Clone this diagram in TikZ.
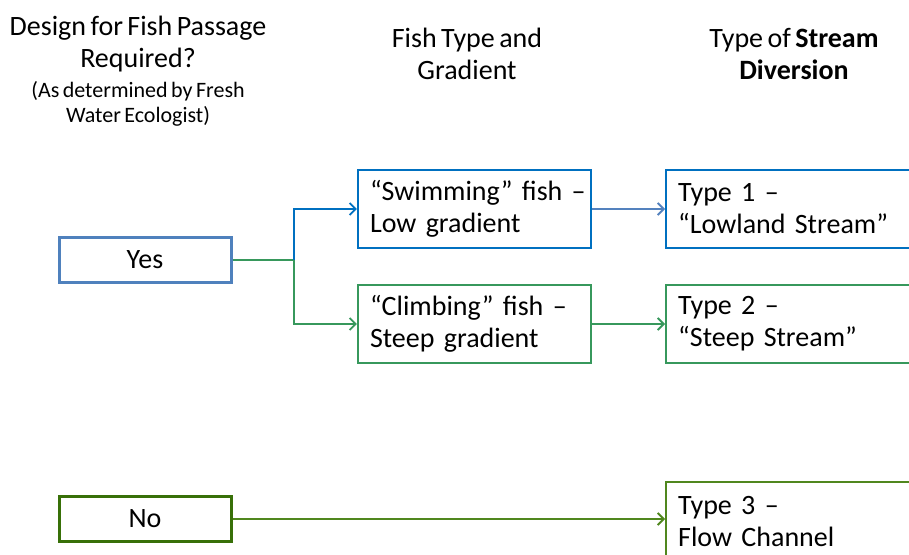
\documentclass[tikz,border=0pt]{standalone}
\usepackage{fontspec}
\setmainfont[WordSpace=0.7]{Carlito}
\usetikzlibrary{arrows.meta}
\definecolor{yesblue}{RGB}{79,129,189}
\definecolor{boxblue}{RGB}{0,112,192}
\definecolor{lineblue}{RGB}{84,130,190}
\definecolor{boxgreen}{RGB}{55,152,92}
\definecolor{nogreen}{RGB}{56,112,8}
\definecolor{t3green}{RGB}{80,135,30}
\tikzset{
  hdr/.style={font=\fontsize{28}{32}\selectfont, align=center},
  sub/.style={font=\fontsize{22}{25}\selectfont, align=center},
  choice/.style={draw, line width=3pt, minimum width=172pt, minimum height=45pt, inner sep=0pt, font=\fontsize{28}{32}\selectfont},
  tbox/.style={draw, line width=2.4pt, minimum width=233pt, minimum height=78pt, inner sep=0pt, text width=209pt, align=left, font=\fontsize{28}{32}\selectfont},
  rbox/.style={draw, line width=2.4pt, minimum width=250pt, minimum height=78pt, inner sep=0pt, text width=226pt, align=left, font=\fontsize{28}{32}\selectfont},
  conn/.style={line width=1.8pt},
  arr/.style={conn, -{Straight Barb[length=6pt,width=12pt,line width=1.8pt]}}
}
\begin{document}
\begin{tikzpicture}[x=1pt,y=-1pt]
\useasboundingbox (0,0) rectangle (909,554);
\clip (0,0) rectangle (909,554);
\fill[white] (0,0) rectangle (909,554);
% headers
\node[hdr] (h1) at (138,44) {Design for Fish Passage\\Required?};
\node[sub] (h1s) at (138,104) {(As determined by Fresh\\Water Ecologist)};
\node[hdr] (h2) at (467,54) {Fish Type and\\Gradient};
\node[hdr] (h3) at (794,54) {Type of \textbf{Stream}\\\textbf{Diversion}};
% boxes
\node[choice, draw=yesblue] (yes) at (145,260) {Yes};
\node[choice, draw=nogreen] (no) at (145,519) {No};
\node[tbox, draw=boxblue] (swim) at (474.5,209) {\mbox{“Swimming” fish –}\\\mbox{Low gradient}};
\node[tbox, draw=boxgreen] (climb) at (474.5,324) {\mbox{“Climbing” fish –}\\\mbox{Steep gradient}};
\node[rbox, draw=boxblue, anchor=west] (t1) at (665,209) {\mbox{Type 1 –}\\\mbox{“Lowland Stream”}};
\node[rbox, draw=boxgreen, anchor=west] (t2) at (665,324) {\mbox{Type 2 –}\\\mbox{“Steep Stream”}};
\node[rbox, draw=t3green, anchor=north west] (t3) at (665,481) {\mbox{Type 3 –}\\\mbox{Flow Channel}};
% connectors
\coordinate (j) at (294,260);
\draw[conn, boxgreen] (yes.east) -- (j);
\draw[arr, boxblue] (j) |- (swim.west);
\draw[arr, boxgreen] (j) |- (climb.west);
\draw[arr, lineblue] (swim.east) -- (t1.west);
\draw[arr, boxgreen] (climb.east) -- (t2.west);
\draw[arr, t3green] (no.east) -- (no.east -| t3.west);
\end{tikzpicture}
\end{document}
